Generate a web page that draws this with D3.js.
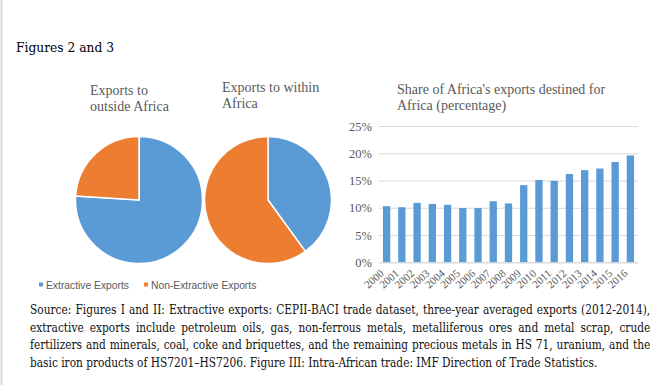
<!DOCTYPE html>
<html>
<head>
<meta charset="utf-8">
<script src="https://cdn.jsdelivr.net/npm/d3@7"></script>
<style>
  html, body { margin: 0; padding: 0; background: #fff; }
  svg { display: block; }
</style>
</head>
<body>
<svg id="chart" width="672" height="385"></svg>
<script>
// pie data (share of exports, %)
const pieLabels = ['Extractive Exports', 'Non-Extractive Exports'];
const outsideAfrica = [76, 24];
const withinAfrica = [40, 60];

// bar data: share of Africa's exports destined for Africa
const years = ['2000', '2001', '2002', '2003', '2004', '2005', '2006', '2007', '2008',
    '2009', '2010', '2011', '2012', '2013', '2014', '2015', '2016'];
const shares = [0.103, 0.101, 0.109, 0.107, 0.1055, 0.0995, 0.0995, 0.112, 0.108,
    0.1415, 0.151, 0.1495, 0.162, 0.169, 0.172, 0.184, 0.196];
const yTicks = [0, 0.05, 0.10, 0.15, 0.20, 0.25];

const sourceLines = [
    'Source: Figures I and II: Extractive exports: CEPII-BACI trade dataset, three-year averaged exports (2012-2014),',
    'extractive exports include petroleum oils, gas, non-ferrous metals, metalliferous ores and metal scrap, crude',
    'fertilizers and minerals, coal, coke and briquettes, and the remaining precious metals in HS 71, uranium, and the',
    'basic iron products of HS7201\u2013HS7206. Figure III: Intra-African trade: IMF Direction of Trade Statistics.',
];

const blue = '#5b9bd5';
const orange = '#ed7d31';
const grey = '#595959';
const serif = '"Liberation Serif", "Times New Roman", serif';

const svg = d3.select('#chart');

// thin page border on the left
svg.append('line')
    .attr('x1', 1.5).attr('x2', 1.5).attr('y1', 0).attr('y2', 385)
    .attr('stroke', '#d9d9d9').attr('stroke-width', 2);

svg.append('text')
    .attr('x', 16).attr('y', 52)
    .attr('font-family', '"DejaVu Serif", Georgia, serif')
    .attr('font-size', 13.5)
    .attr('textLength', 98).attr('lengthAdjust', 'spacingAndGlyphs')
    .attr('fill', '#000')
    .text('Figures 2 and 3');

// ---- pies
const color = d3.scaleOrdinal().domain(pieLabels).range([blue, orange]);
const pie = d3.pie().sort(null);
const arc = d3.arc().innerRadius(0).outerRadius(63.5);

const pies = [
    { values: outsideAfrica, cx: 139, cy: 200, title: ['Exports to', 'outside Africa'], tx: 90, ty: 95 },
    { values: withinAfrica, cx: 268, cy: 200, title: ['Exports to within', 'Africa'], tx: 222, ty: 92 },
];

pies.forEach((p) => {
    const g = svg.append('g').attr('transform', `translate(${p.cx},${p.cy})`);
    g.selectAll('path')
        .data(pie(p.values))
        .join('path')
        .attr('d', arc)
        .attr('fill', (d, i) => color(pieLabels[i]))
        .attr('stroke', '#fff')
        .attr('stroke-width', 1.5);

    svg.append('text')
        .attr('font-family', serif)
        .attr('font-size', 14)
        .attr('fill', grey)
        .selectAll('tspan')
        .data(p.title)
        .join('tspan')
        .attr('x', p.tx)
        .attr('y', (d, i) => p.ty + i * 16)
        .text((d) => d);
});

// pie legend
const legend = svg.append('g')
    .selectAll('g')
    .data(pieLabels)
    .join('g')
    .attr('transform', (d, i) => `translate(${i ? 144 : 39},287)`);
legend.append('rect')
    .attr('x', 0).attr('y', -4.5).attr('width', 4).attr('height', 4)
    .attr('fill', (d) => color(d));
legend.append('text')
    .attr('x', 7).attr('y', 1.5)
    .attr('font-family', '"Liberation Sans", Arial, sans-serif')
    .attr('font-size', 10.3)
    .attr('fill', grey)
    .text((d) => d);

// ---- bar chart
const x = d3.scaleBand()
    .domain(years)
    .range([379, 638])
    .paddingInner(0.52)
    .paddingOuter(0.26);

const y = d3.scaleLinear()
    .domain([0, 0.25])
    .range([262.3, 126]);

svg.append('text')
    .attr('font-family', serif)
    .attr('font-size', 14)
    .attr('fill', grey)
    .selectAll('tspan')
    .data(["Share of Africa's exports destined for", 'Africa (percentage)'])
    .join('tspan')
    .attr('x', 397)
    .attr('y', (d, i) => 94 + i * 16)
    .text((d) => d);

const yAxis = svg.append('g')
    .attr('transform', 'translate(379,0)')
    .call(d3.axisLeft(y).tickValues(yTicks).tickFormat(d3.format('.0%')).tickSize(-259).tickPadding(7));
yAxis.select('.domain').remove();
yAxis.selectAll('.tick line').attr('stroke', '#d9d9d9');
yAxis.selectAll('.tick text')
    .attr('font-family', serif)
    .attr('font-size', 12.5)
    .attr('fill', grey);

svg.append('g')
    .selectAll('rect')
    .data(shares)
    .join('rect')
    .attr('x', (d, i) => x(years[i]))
    .attr('y', (d) => y(d))
    .attr('width', x.bandwidth())
    .attr('height', (d) => y(0) - y(d))
    .attr('fill', blue);

const xAxis = svg.append('g')
    .attr('transform', `translate(0,${y(0)})`)
    .call(d3.axisBottom(x).tickSize(0).tickPadding(0));
xAxis.select('.domain').attr('stroke', '#d9d9d9');
xAxis.selectAll('.tick text')
    .attr('font-family', serif)
    .attr('font-size', 11)
    .attr('fill', grey)
    .attr('text-anchor', 'end')
    .attr('dy', 0)
    .attr('transform', 'translate(-2,12) rotate(-42)');

// ---- source note, condensed and justified
const noteLeft = 30;
const noteWidth = 621;
const lastLineWidth = 568;
const notes = svg.append('g')
    .selectAll('text')
    .data(sourceLines)
    .join('text')
    .attr('x', 0)
    .attr('y', 0)
    .attr('font-family', '"DejaVu Serif", Georgia, serif')
    .attr('font-size', 12.5)
    .attr('fill', '#111')
    .text((d) => d);

const sx = lastLineWidth / notes.nodes()[3].getComputedTextLength();
notes.each(function (d, i) {
    if (i < 3) {
        const natural = this.getComputedTextLength();
        const gaps = d.split(' ').length - 1;
        d3.select(this).attr('word-spacing', (noteWidth / sx - natural) / gaps);
    }
    d3.select(this).attr('transform', `translate(${noteLeft},${314 + i * 17.6}) scale(${sx},1)`);
});
</script>
</body>
</html>
